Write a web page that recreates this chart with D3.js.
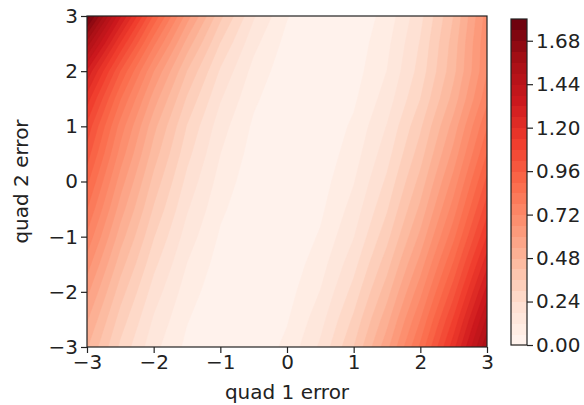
<!DOCTYPE html>
<html>
<head>
<meta charset="utf-8">
<script src="https://cdn.jsdelivr.net/npm/d3@7"></script>
<style>
  body { margin: 0; background: #fff; }
  svg { display: block; }
  text { font-family: "DejaVu Sans", sans-serif; fill: #222; }
</style>
</head>
<body>
<svg id="chart" width="584" height="405"></svg>
<script>
// grid of the contour field (rows go from top y=3 to bottom y=-3)
var xGrid = [-3, -2.5, -2, -1.5, -1, -0.5, 0, 0.5, 1, 1.5, 2, 2.5, 3];
var yGrid = [3, 2.5, 2, 1.5, 1, 0.5, 0, -0.5, -1, -1.5, -2, -2.5, -3];
var errorGrid = [
  [1.780, 1.331, 0.948, 0.629, 0.376, 0.187, 0.064, 0.005, 0.012, 0.083, 0.220, 0.421, 0.688],
  [1.529, 1.131, 0.793, 0.514, 0.296, 0.137, 0.039, 0.001, 0.022, 0.104, 0.245, 0.447, 0.709],
  [1.309, 0.957, 0.660, 0.418, 0.231, 0.099, 0.022, 0.000, 0.033, 0.121, 0.264, 0.462, 0.715],
  [1.168, 0.843, 0.571, 0.351, 0.185, 0.071, 0.011, 0.003, 0.049, 0.148, 0.299, 0.504, 0.761],
  [1.062, 0.754, 0.499, 0.296, 0.146, 0.049, 0.003, 0.011, 0.071, 0.183, 0.348, 0.565, 0.835],
  [0.990, 0.694, 0.450, 0.259, 0.120, 0.034, 0.001, 0.019, 0.091, 0.215, 0.391, 0.620, 0.901],
  [0.914, 0.630, 0.399, 0.221, 0.095, 0.021, 0.000, 0.032, 0.116, 0.252, 0.441, 0.683, 0.977],
  [0.841, 0.570, 0.352, 0.186, 0.072, 0.011, 0.003, 0.047, 0.144, 0.293, 0.494, 0.749, 1.055],
  [0.765, 0.508, 0.303, 0.151, 0.051, 0.004, 0.009, 0.067, 0.177, 0.340, 0.555, 0.823, 1.143],
  [0.688, 0.446, 0.256, 0.118, 0.033, 0.000, 0.020, 0.093, 0.218, 0.395, 0.625, 0.908, 1.243],
  [0.615, 0.387, 0.212, 0.089, 0.018, 0.001, 0.035, 0.122, 0.262, 0.454, 0.699, 0.996, 1.346],
  [0.546, 0.333, 0.172, 0.064, 0.008, 0.005, 0.054, 0.156, 0.311, 0.517, 0.777, 1.089, 1.453],
  [0.485, 0.286, 0.139, 0.044, 0.002, 0.013, 0.076, 0.191, 0.359, 0.580, 0.853, 1.178, 1.556]
];
var levels = [0, 0.06, 0.12, 0.18, 0.24, 0.30, 0.36, 0.42, 0.48, 0.54, 0.60, 0.66, 0.72, 0.78, 0.84, 0.90,
              0.96, 1.02, 1.08, 1.14, 1.20, 1.26, 1.32, 1.38, 1.44, 1.50, 1.56, 1.62, 1.68, 1.74, 1.80];
var xTicks = [-3, -2, -1, 0, 1, 2, 3];
var yTicks = [-3, -2, -1, 0, 1, 2, 3];
var cbTicks = [0, 0.24, 0.48, 0.72, 0.96, 1.20, 1.44, 1.68];
var redsStops = ["#fff5f0", "#fee0d2", "#fcbba1", "#fc9272", "#fb6a4a", "#ef3b2c", "#cb181d", "#a50f15", "#67000d"];

var svg = d3.select("#chart");
var fontSize = 20;

var x = d3.scaleLinear().domain([-3, 3]).range([87, 487]);
var y = d3.scaleLinear().domain([-3, 3]).range([347, 16]);

var vmin = levels[0], vmax = levels[levels.length - 1];
var reds = d3.scaleLinear()
    .domain(d3.range(redsStops.length).map(function(i) { return i / (redsStops.length - 1); }))
    .range(redsStops)
    .interpolate(d3.interpolateRgb);
function bandColor(i) {
  var mid = (levels[i] + levels[i + 1]) / 2;
  return reds((mid - vmin) / (vmax - vmin));
}

// filled contours
var nx = xGrid.length, ny = yGrid.length;
var values = [].concat.apply([], errorGrid);
var contours = d3.contours()
    .size([nx, ny])
    .thresholds(levels.slice(0, -1))(values);

var gx = d3.scaleLinear().domain([0.5, nx - 0.5]).range([x(xGrid[0]), x(xGrid[nx - 1])]);
var gy = d3.scaleLinear().domain([0.5, ny - 0.5]).range([y(yGrid[0]), y(yGrid[ny - 1])]);
var proj = d3.geoTransform({
  point: function(px, py) { this.stream.point(gx(px), gy(py)); }
});
var path = d3.geoPath(proj);

svg.append("clipPath").attr("id", "plotclip")
  .append("rect")
    .attr("x", x(-3)).attr("y", y(3))
    .attr("width", x(3) - x(-3)).attr("height", y(-3) - y(3));

svg.append("g")
    .attr("clip-path", "url(#plotclip)")
  .selectAll("path")
    .data(contours)
  .enter().append("path")
    .attr("d", path)
    .attr("fill", function(d, i) { return bandColor(i); })
    .attr("stroke", function(d, i) { return bandColor(i); })
    .attr("stroke-width", 0.5);

// axes
function fmtInt(d) { return d < 0 ? "\u2212" + Math.abs(d) : "" + d; }

var xAxis = svg.append("g")
    .attr("transform", "translate(0," + y(-3) + ")")
    .call(d3.axisBottom(x).tickValues(xTicks).tickSize(6).tickPadding(2).tickFormat(fmtInt));
var yAxis = svg.append("g")
    .attr("transform", "translate(" + x(-3) + ",0)")
    .call(d3.axisLeft(y).tickValues(yTicks).tickSize(6).tickPadding(3).tickFormat(fmtInt));

[xAxis, yAxis].forEach(function(a) {
  a.select(".domain").remove();
  a.selectAll("line").attr("stroke", "#222").attr("stroke-width", 1.2);
  a.selectAll("text").attr("font-size", fontSize).attr("font-family", "DejaVu Sans").attr("fill", "#222");
});

svg.append("rect")
    .attr("x", x(-3)).attr("y", y(3))
    .attr("width", x(3) - x(-3)).attr("height", y(-3) - y(3))
    .attr("fill", "none").attr("stroke", "#222").attr("stroke-width", 1.2);

svg.append("text")
    .attr("x", (x(-3) + x(3)) / 2).attr("y", 399)
    .attr("text-anchor", "middle").attr("font-size", fontSize)
    .text("quad 1 error");

svg.append("text")
    .attr("transform", "translate(28," + (y(-3) + y(3)) / 2 + ") rotate(-90)")
    .attr("text-anchor", "middle").attr("font-size", fontSize)
    .text("quad 2 error");

// colorbar
var cbX = 511, cbW = 16;
var cb = d3.scaleLinear().domain([vmin, vmax]).range([345, 19]);

svg.append("g").selectAll("rect")
    .data(d3.range(levels.length - 1))
  .enter().append("rect")
    .attr("x", cbX).attr("width", cbW)
    .attr("y", function(i) { return cb(levels[i + 1]); })
    .attr("height", function(i) { return cb(levels[i]) - cb(levels[i + 1]) + 0.5; })
    .attr("fill", function(i) { return bandColor(i); })
    .attr("shape-rendering", "crispEdges");

svg.append("rect")
    .attr("x", cbX).attr("y", cb(vmax))
    .attr("width", cbW).attr("height", cb(vmin) - cb(vmax))
    .attr("fill", "none").attr("stroke", "#222").attr("stroke-width", 1.2);

var cbAxis = svg.append("g")
    .attr("transform", "translate(" + (cbX + cbW) + ",0)")
    .call(d3.axisRight(cb).tickValues(cbTicks).tickSize(6).tickPadding(3).tickFormat(d3.format(".2f")));
cbAxis.select(".domain").remove();
cbAxis.selectAll("line").attr("stroke", "#222").attr("stroke-width", 1.2);
cbAxis.selectAll("text").attr("font-size", fontSize).attr("font-family", "DejaVu Sans").attr("fill", "#222");
</script>
</body>
</html>
